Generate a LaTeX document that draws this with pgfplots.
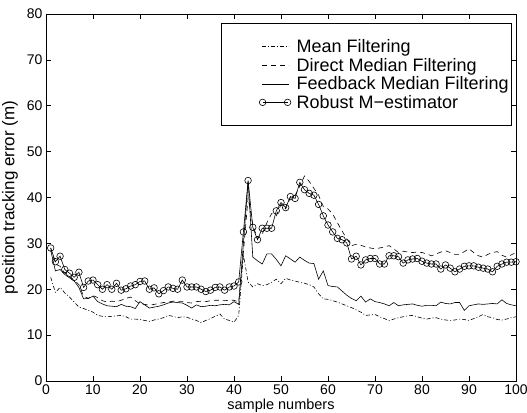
\documentclass[border=0pt]{standalone}
\usepackage{fontspec}
\setmainfont{Liberation Sans}
\usepackage{pgfplots}
\usepackage{pgfplotstable}
\pgfplotsset{compat=1.18}
\pgfplotsset{
    % matlab-like legend sample: blank lead-in, then the line
    mlegend/.style={
        legend image code/.code={
            \path[draw=none, fill=none] (0pt,-4pt) rectangle (72pt,4pt);
            \draw[##1] (39pt,0pt) -- (66pt,0pt);
        }
    },
    robust legend/.style={
        legend image code/.code={
            \path[draw=none, fill=none] (0pt,-4pt) rectangle (72pt,4pt);
            \draw[##1] plot coordinates {(40pt,0pt) (65pt,0pt)};
        }
    }
}

% columns: sample, mean, direct median, feedback median, robust M
\pgfplotstableread{
x mean direct feedback robust
1 22.6 29.0 28.5 29.0
2 19.3 25.5 24.0 26.0
3 20.4 25.0 24.3 27.2
4 19.2 23.5 23.2 24.3
5 18.3 22.8 22.5 23.5
6 17.2 22.0 21.8 22.6
7 16.1 21.0 20.4 23.7
8 15.8 18.5 17.9 20.4
9 15.4 18.0 18.0 21.8
10 15.0 18.6 18.5 22.0
11 14.3 18.2 17.3 21.0
12 14.1 17.5 16.8 20.0
13 14.0 17.2 16.4 21.0
14 14.1 17.4 16.3 20.0
15 14.2 17.3 16.2 21.3
16 14.3 17.6 16.7 19.8
17 14.0 18.0 16.3 20.1
18 13.5 18.3 16.2 20.7
19 13.5 17.5 15.8 21.0
20 13.4 16.8 17.3 21.7
21 13.2 16.7 16.6 21.8
22 13.0 16.5 15.9 20.0
23 13.3 16.7 16.1 20.3
24 13.5 16.9 16.3 19.0
25 13.8 17.1 16.6 19.7
26 14.3 17.2 17.0 20.5
27 14.1 17.4 17.2 20.2
28 13.8 17.3 17.1 20.0
29 14.0 17.3 17.0 22.0
30 13.9 17.1 16.5 20.5
31 13.5 17.0 15.9 20.5
32 13.2 17.3 16.6 20.5
33 12.7 17.4 16.2 20.0
34 13.2 17.3 16.3 19.5
35 13.6 17.5 16.5 19.8
36 14.1 17.6 16.4 20.4
37 14.6 17.6 16.6 20.5
38 13.5 17.5 16.7 19.8
39 13.2 17.6 16.6 20.5
40 12.8 17.6 17.3 20.7
41 14.3 17.2 16.7 21.6
42 27.5 28.0 30.0 32.5
43 21.6 40.0 43.5 43.7
44 20.5 34.0 27.0 33.5
45 21.2 31.0 26.2 30.8
46 20.8 32.0 25.5 33.3
47 21.0 34.5 27.7 33.3
48 21.5 36.5 27.7 33.3
49 22.2 36.0 26.5 37.1
50 21.2 38.5 25.1 38.9
51 22.4 37.5 27.3 37.8
52 22.0 40.0 26.6 40.2
53 21.8 40.5 25.9 39.8
54 21.5 42.5 27.0 43.3
55 21.3 44.7 26.3 41.7
56 21.0 43.5 25.7 40.9
57 20.5 42.0 25.6 40.5
58 19.0 40.5 22.2 38.5
59 17.9 38.0 24.0 36.0
60 17.8 37.5 20.8 34.0
61 17.5 36.4 20.6 32.5
62 17.2 34.5 20.5 31.1
63 16.8 32.7 19.6 30.8
64 16.4 31.0 18.7 30.1
65 16.0 29.5 18.0 26.6
66 15.5 29.8 17.5 27.2
67 15.0 29.6 18.5 25.3
68 14.3 29.2 17.2 26.4
69 14.4 29.0 17.9 26.7
70 14.5 28.8 17.3 26.7
71 14.0 29.0 17.1 25.5
72 13.6 29.2 16.8 25.5
73 13.2 29.5 16.4 27.3
74 13.5 28.8 17.1 27.3
75 13.8 28.0 16.4 27.1
76 14.0 28.3 16.6 25.7
77 14.2 28.1 16.7 26.4
78 14.3 28.0 16.8 26.6
79 14.0 28.1 16.5 26.7
80 13.7 28.0 16.3 26.1
81 13.5 27.7 16.5 25.7
82 13.7 27.3 16.5 25.5
83 13.8 27.7 16.4 25.5
84 13.5 28.1 17.2 24.4
85 13.3 28.4 16.9 25.3
86 13.2 28.0 16.8 24.6
87 13.3 27.6 17.1 23.8
88 13.5 27.6 17.1 24.4
89 13.4 28.2 15.4 25.0
90 13.2 28.8 16.4 25.1
91 13.6 28.0 16.6 25.1
92 14.0 27.3 16.8 24.8
93 14.5 27.0 16.7 24.6
94 14.0 27.6 16.8 24.4
95 13.8 28.0 16.9 23.8
96 13.4 28.2 16.8 25.0
97 13.3 27.4 17.7 25.5
98 13.5 27.0 16.9 25.9
99 13.8 27.5 16.6 25.9
100 14.0 28.0 16.4 26.0
}\errdata

\begin{document}
\begin{tikzpicture}
\begin{axis}[
    scale only axis,
    width=470pt, height=367pt,
    xmin=0, xmax=100, ymin=0, ymax=80,
    xtick={0,10,...,100}, ytick={0,10,...,80},
    tick align=inside,
    major tick length=5pt,
    tick style={black, line width=0.5pt},
    axis line style={line width=0.6pt},
    /pgf/number format/assume math mode=true,
    ticklabel style={font=\fontsize{14}{16}\selectfont},
    xlabel={sample numbers},
    ylabel={position tracking error (m)},
    xlabel style={yshift=2pt, font=\fontsize{14.5}{16}\selectfont},
    every axis y label/.style={at={(rel axis cs:0,0.5)}, xshift=-36pt,
        rotate=90, anchor=center, font=\fontsize{17}{18}\selectfont},
    legend style={
        at={(rel axis cs:0.9915,0.975)}, anchor=north east,
        font=\fontsize{18}{18}\selectfont,
        draw=black, line width=0.6pt,
        inner xsep=1pt, inner ysep=14pt,
        row sep=0pt,
        legend cell align=left,
    },
    legend image post style={line width=0.6pt},
    every axis plot/.append style={black, line width=0.6pt},
]
\addplot[dash pattern=on 4pt off 2pt on 1pt off 2pt, mlegend] table[x=x, y=mean] {\errdata};
\addlegendentry{Mean Filtering}
\addplot[dash pattern=on 5pt off 4pt, mlegend] table[x=x, y=direct] {\errdata};
\addlegendentry{Direct Median Filtering}
\addplot[solid, mlegend] table[x=x, y=feedback] {\errdata};
\addlegendentry{Feedback Median Filtering\hspace{11pt}}
\addplot[solid, mark=o, mark size=3.3pt, mark options={solid, line width=0.6pt}, robust legend]
    table[x=x, y=robust] {\errdata};
\addlegendentry{Robust M−estimator}
\end{axis}
\pgfresetboundingbox
\path ([shift={(-46pt,-32pt)}]current axis.south west) rectangle ([shift={(11pt,14pt)}]current axis.north east);
\end{tikzpicture}
\end{document}
